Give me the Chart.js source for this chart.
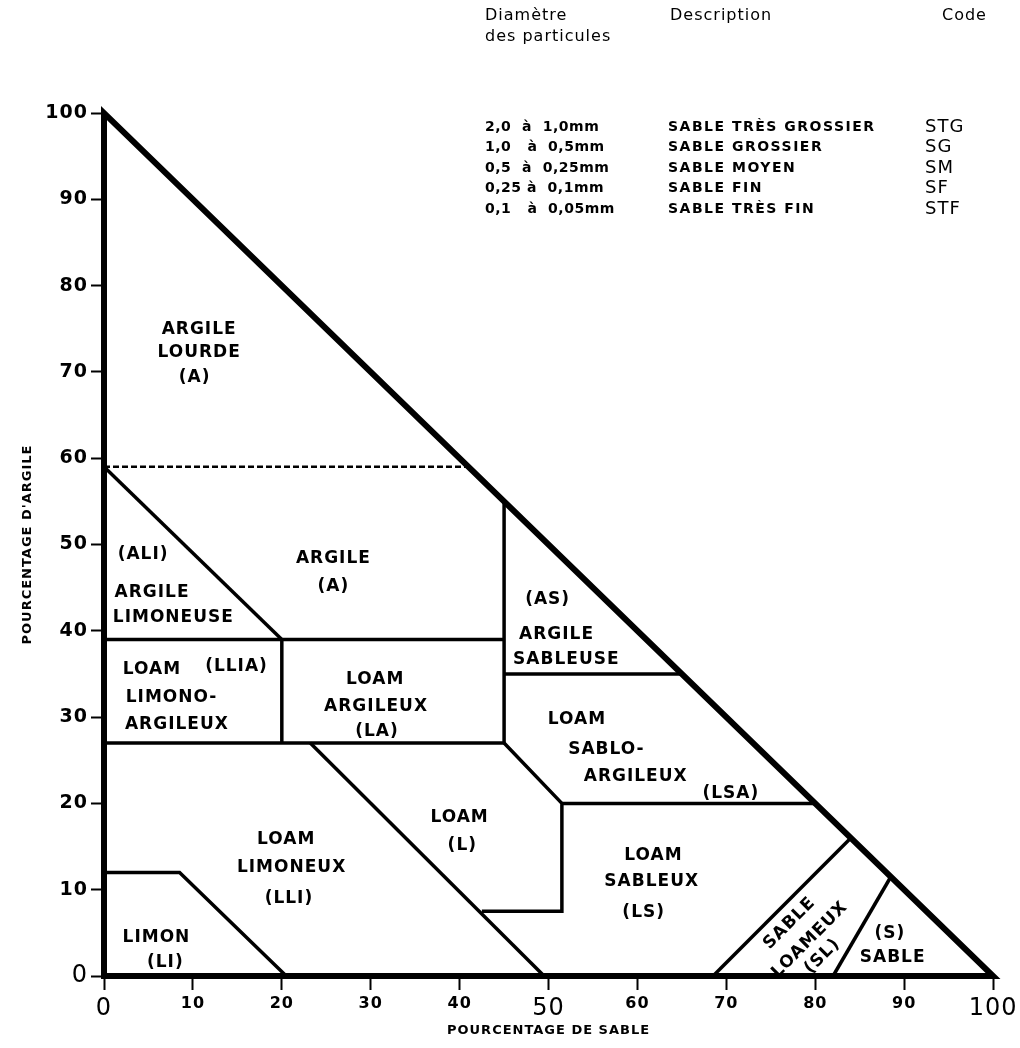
<!DOCTYPE html>
<html>
<head>
<meta charset="utf-8">
<script src="https://cdn.jsdelivr.net/npm/chart.js@4.4.1/dist/chart.umd.min.js"></script>
<style>
  html, body { margin: 0; padding: 0; background: #fff; }
</style>
</head>
<body>
<canvas id="chartOne" width="1020" height="1048"></canvas>
<script>
// tick values on both axes (percent)
const tickValues = [0, 10, 20, 30, 40, 50, 60, 70, 80, 90, 100];

// boundaries, as [sand %, clay %]
const outline = [[0, 0], [0, 100], [100, 0], [0, 0], [0, 1]];
const heavyClayLimit = [[0, 59], [41, 59]];
const siltyClayEdge = [[0, 59], [20, 39]];
const clay39 = [[0, 39], [45, 39]];
const siltyClayLoamEdge = [[20, 39], [20, 27]];
const sand45 = [[45, 55], [45, 27]];
const clay27 = [[0, 27], [45, 27]];
const sandyClayEdge = [[45, 35], [65, 35]];
const loamEdge = [[45, 27], [51.5, 20], [51.5, 7.5], [42.5, 7.5]];
const siltLoamEdge = [[23.2, 27], [49.5, 0]];
const sandyClayLoamEdge = [[51.5, 20], [80, 20]];
const siltEdge = [[0, 12], [8.5, 12], [20.5, 0]];
const loamySandEdge = [[68.5, 0], [84, 16]];
const sandEdge = [[82, 0], [88.5, 11.5]];

// zone names: text, sand %, clay %
const zoneLabels = [
  ['ARGILE', 10.7, 74.9], ['LOURDE', 10.7, 72.2], ['(A)', 10.2, 69.3],
  ['(ALI)', 4.4, 48.8], ['ARGILE', 5.4, 44.4], ['LIMONEUSE', 7.8, 41.5],
  ['ARGILE', 25.8, 48.4], ['(A)', 25.8, 45.1],
  ['LOAM', 5.4, 35.5], ['(LLIA)', 14.9, 35.9], ['LIMONO-', 7.6, 32.3], ['ARGILEUX', 8.2, 29.1],
  ['LOAM', 30.5, 34.3], ['ARGILEUX', 30.6, 31.2], ['(LA)', 30.7, 28.3],
  ['(AS)', 49.9, 43.6], ['ARGILE', 50.9, 39.6], ['SABLEUSE', 52.0, 36.7],
  ['LOAM', 53.2, 29.7], ['SABLO-', 56.5, 26.2], ['ARGILEUX', 59.8, 23.1], ['(LSA)', 70.5, 21.1],
  ['LOAM', 40.0, 18.3], ['(L)', 40.3, 15.1],
  ['LOAM', 61.8, 14.0], ['SABLEUX', 61.6, 10.9], ['(LS)', 60.7, 7.4],
  ['LOAM', 20.5, 15.8], ['LIMONEUX', 21.1, 12.6], ['(LLI)', 20.8, 9.0],
  ['LIMON', 5.9, 4.5], ['(LI)', 6.9, 1.6],
  ['(S)', 88.4, 4.9], ['SABLE', 88.7, 2.1]
];
// written along the loamy sand edge
const slantedLabels = [['SABLE', 77.1, 6.1], ['LOAMEUX', 79.4, 4.2], ['(SL)', 80.8, 2.3]];

// particle size table
const diameters = ['2,0  à  1,0mm', '1,0   à  0,5mm', '0,5  à  0,25mm', '0,25 à  0,1mm', '0,1   à  0,05mm'];
const descriptions = ['SABLE TRÈS GROSSIER', 'SABLE GROSSIER', 'SABLE MOYEN', 'SABLE FIN', 'SABLE TRÈS FIN'];
const codes = ['STG', 'SG', 'SM', 'SF', 'STF'];

const FONT = '"DejaVu Sans", sans-serif';

function lineSet(points, width, dash) {
  return {
    data: points.map(p => ({ x: p[0], y: p[1] })),
    showLine: true,
    borderColor: '#000',
    borderWidth: width,
    borderDash: dash || [],
    borderJoinStyle: 'miter',
    pointRadius: 0,
    fill: false,
    tension: 0,
    clip: false
  };
}

const textPlugin = {
  id: 'textPlugin',
  beforeDraw(chart) {
    chart.ctx.letterSpacing = '1px';
  },
  afterDraw(chart) {
    const ctx = chart.ctx;
    const xs = chart.scales.x;
    const ys = chart.scales.y;
    ctx.save();
    ctx.fillStyle = '#000';
    ctx.letterSpacing = '1px';
    ctx.textBaseline = 'middle';

    // zone names
    ctx.textAlign = 'center';
    ctx.font = 'bold 17px ' + FONT;
    zoneLabels.forEach(([t, s, c]) => {
      ctx.fillText(t, xs.getPixelForValue(s), ys.getPixelForValue(c));
    });

    // slanted names follow the loamy sand edge
    const a = loamySandEdge[0], b = loamySandEdge[1];
    const ang = Math.atan2(ys.getPixelForValue(b[1]) - ys.getPixelForValue(a[1]),
                           xs.getPixelForValue(b[0]) - xs.getPixelForValue(a[0]));
    slantedLabels.forEach(([t, s, c]) => {
      ctx.save();
      ctx.translate(xs.getPixelForValue(s), ys.getPixelForValue(c));
      ctx.rotate(ang);
      ctx.fillText(t, 0, 0);
      ctx.restore();
    });

    // particle size table
    ctx.textAlign = 'left';
    ctx.font = '16px ' + FONT;
    ctx.fillText('Diamètre', 485, 16);
    ctx.fillText('des particules', 485, 37);
    ctx.fillText('Description', 670, 16);
    ctx.fillText('Code', 942, 16);
    diameters.forEach((d, i) => {
      const yy = 127 + i * 20.5;
      ctx.letterSpacing = '0.5px';
      ctx.font = 'bold 14px ' + FONT;
      ctx.fillText(d, 485, yy);
      ctx.letterSpacing = '1.5px';
      ctx.font = 'bold 14px ' + FONT;
      ctx.fillText(descriptions[i], 668, yy);
      ctx.letterSpacing = '1px';
      ctx.font = '18px ' + FONT;
      ctx.fillText(codes[i], 925, yy);
    });
    ctx.restore();
  }
};

const bigTick = { family: FONT, size: 24, weight: 'normal' };

const ctx = document.getElementById('chartOne').getContext('2d');
const chartOne = new Chart(ctx, {
  type: 'scatter',
  data: {
    datasets: [
      lineSet(outline, 6),
      lineSet(heavyClayLimit, 2.5, [6, 3]),
      lineSet(siltyClayEdge, 3.5),
      lineSet(clay39, 3.5),
      lineSet(siltyClayLoamEdge, 3.5),
      lineSet(sand45, 3.5),
      lineSet(clay27, 3.5),
      lineSet(sandyClayEdge, 3.5),
      lineSet(loamEdge, 3.5),
      lineSet(siltLoamEdge, 3.5),
      lineSet(sandyClayLoamEdge, 3.5),
      lineSet(siltEdge, 3.5),
      lineSet(loamySandEdge, 3.5),
      lineSet(sandEdge, 3.5)
    ]
  },
  options: {
    responsive: false,
    animation: false,
    layout: { padding: { left: 0, top: 113, right: 20, bottom: 0 } },
    plugins: { legend: { display: false }, tooltip: { enabled: false } },
    scales: {
      x: {
        type: 'linear',
        min: 0,
        max: 100,
        afterFit: s => { s.height = 72; },
        afterBuildTicks: s => { s.ticks = tickValues.map(v => ({ value: v })); },
        border: { display: false },
        grid: { drawOnChartArea: false, drawTicks: true, tickLength: 14, tickWidth: 2, tickColor: '#000', color: '#000' },
        ticks: {
          color: '#000',
          padding: 4,
          autoSkip: false,
          maxRotation: 0,
          font: c => (c.tick && c.tick.value % 50 === 0) ? bigTick : { family: FONT, size: 16, weight: 'bold' }
        },
        title: {
          display: true,
          text: 'POURCENTAGE DE SABLE',
          color: '#000',
          font: { family: FONT, size: 13, weight: 'bold' },
          padding: { top: 0, bottom: 10 }
        }
      },
      y: {
        type: 'linear',
        min: 0,
        max: 100,
        afterFit: s => { s.width = 104; },
        afterBuildTicks: s => { s.ticks = tickValues.map(v => ({ value: v })); },
        border: { display: false },
        grid: { drawOnChartArea: false, drawTicks: true, tickLength: 13, tickWidth: 2, tickColor: '#000', color: '#000' },
        ticks: {
          color: '#000',
          padding: 3,
          font: c => (c.tick && c.tick.value === 0) ? bigTick : { family: FONT, size: 19, weight: 'bold' }
        },
        title: {
          display: true,
          text: "POURCENTAGE D'ARGILE",
          color: '#000',
          font: { family: FONT, size: 13, weight: 'bold' },
          padding: { top: 20, bottom: 0 }
        }
      }
    }
  },
  plugins: [textPlugin]
});
</script>
</body>
</html>
